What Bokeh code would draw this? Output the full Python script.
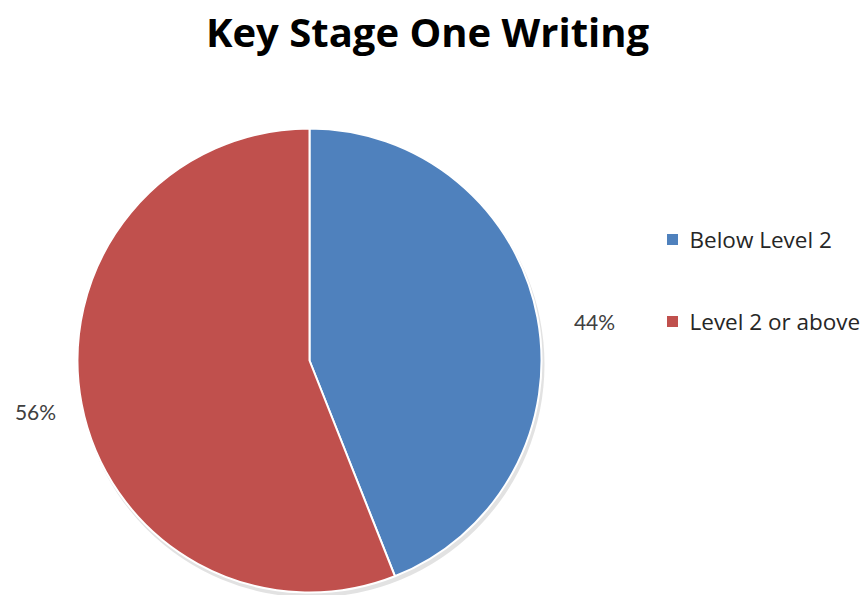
import math
from bokeh.plotting import figure
from bokeh.models import Range1d, ColumnDataSource
from bokeh.core.properties import value
from bokeh.embed import file_html
from bokeh.resources import INLINE

title = "Key Stage One Writing"
categories = ["Below Level 2", "Level 2 or above"]
shares = [44, 56]
labels = ["44%", "56%"]
colors = ["#4F81BD", "#C0504D"]

W, H = 868, 595
p = figure(width=W, height=H, output_backend="svg", toolbar_location=None,
           x_range=Range1d(0, W), y_range=Range1d(0, H), min_border=0)
p.axis.visible = False
p.grid.visible = False
p.outline_line_color = None
p.background_fill_color = "white"

cx, cy, r = 309, H - 360, 232
total = float(sum(shares))
starts, ends = [], []
acc = 0.0
for s in shares:
    starts.append(math.pi / 2 - 2 * math.pi * acc / total)
    acc += s
    ends.append(math.pi / 2 - 2 * math.pi * acc / total)

# faint shadow
p.circle(x=[cx + 2], y=[cy - 4], radius=r + 1, fill_color="#bfbfbf", fill_alpha=0.45, line_color=None)

src = ColumnDataSource(dict(start=starts, end=ends, color=colors, cat=categories))
p.wedge(x=cx, y=cy, radius=r, start_angle="start", end_angle="end", direction="clock",
        fill_color="color", line_color="white", line_width=2, source=src)

# percentage labels
lx = [594, 35]
ly = [H - 321, H - 411]
p.text(x=lx, y=ly, text=labels, text_font=value("Lato"), text_font_size="21px",
       text_color="#404040", text_align="center", text_baseline="middle")

# title
p.text(x=[427], y=[H - 31], text=[title], text_font=value("Open Sans"), text_font_size="40px",
       text_font_style="bold", text_color="black", text_align="center", text_baseline="middle")

# legend
legy = [H - 239, H - 321]
p.rect(x=[672, 672], y=legy, width=11, height=11, fill_color=colors, line_color=None)
p.text(x=[689, 689], y=legy, text=categories, text_font=value("Open Sans"), text_font_size="22.5px",
       text_color="#262626", text_align="left", text_baseline="middle")

open("out.html", "w").write(file_html(p, INLINE))
